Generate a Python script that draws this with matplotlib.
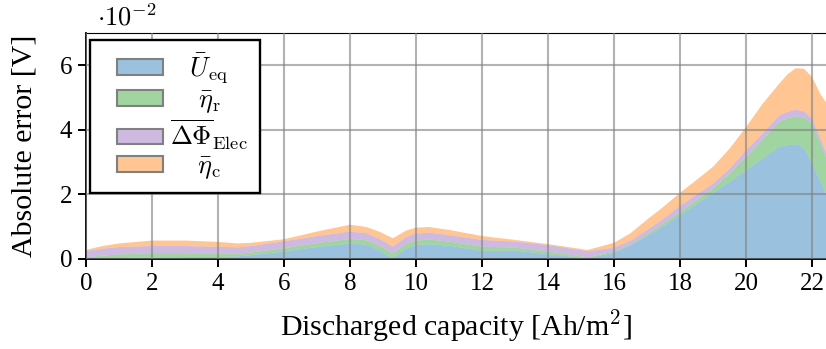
import matplotlib
matplotlib.use("Agg")
import matplotlib.pyplot as plt
from matplotlib.colors import to_rgba
from matplotlib.legend_handler import HandlerPatch
from matplotlib.patches import Patch, Rectangle
import numpy as np

plt.rcParams["font.family"] = ["Liberation Serif", "DejaVu Serif"]
plt.rcParams["mathtext.fontset"] = "cm"

# discharged capacity [Ah/m^2]
capacity = [0.0, 0.5, 1.0, 2.0, 3.0, 4.0, 4.6, 5.0, 6.0, 7.0, 8.0, 8.5, 8.9,
            9.3, 9.7, 10.0, 10.4, 11.0, 12.0, 13.0, 14.0, 15.2, 16.0, 16.5,
            17.0, 17.5, 18.0, 18.5, 19.0, 19.5, 20.0, 20.5, 21.0, 21.25, 21.5,
            21.75, 22.0, 22.24, 22.42]

# layer thicknesses, in 1e-2 V
err_ueq = [0.00, 0.02, 0.03, 0.05, 0.06, 0.06, 0.08, 0.12, 0.23, 0.37, 0.48,
           0.44, 0.26, 0.02, 0.32, 0.43, 0.46, 0.41, 0.25, 0.26, 0.15, 0.02,
           0.20, 0.42, 0.71, 1.02, 1.36, 1.70, 2.05, 2.39, 2.75, 3.11, 3.47,
           3.53, 3.56, 3.45, 2.96, 2.44, 2.03]
err_eta_r = [0.05, 0.08, 0.11, 0.13, 0.12, 0.11, 0.08, 0.08, 0.10, 0.12, 0.14,
             0.14, 0.15, 0.15, 0.14, 0.14, 0.14, 0.13, 0.13, 0.09, 0.08, 0.03,
             0.03, 0.03, 0.05, 0.08, 0.10, 0.12, 0.14, 0.26, 0.41, 0.58, 0.78,
             0.83, 0.86, 0.93, 1.24, 1.16, 1.12]
err_dphi = [0.20, 0.22, 0.23, 0.22, 0.22, 0.21, 0.20, 0.20, 0.22, 0.22, 0.23,
            0.22, 0.21, 0.21, 0.22, 0.22, 0.22, 0.20, 0.21, 0.19, 0.20, 0.19,
            0.12, 0.12, 0.14, 0.15, 0.19, 0.18, 0.15, 0.15, 0.21, 0.20, 0.20,
            0.20, 0.21, 0.20, 0.15, 0.18, 0.15]
err_eta_c = [0.03, 0.08, 0.11, 0.17, 0.17, 0.15, 0.12, 0.10, 0.06, 0.14, 0.21,
             0.19, 0.22, 0.26, 0.20, 0.18, 0.17, 0.16, 0.12, 0.05, 0.03, 0.04,
             0.15, 0.23, 0.32, 0.37, 0.40, 0.45, 0.52, 0.62, 0.72, 0.92, 0.98,
             1.16, 1.28, 1.32, 1.29, 1.35, 1.55]

labels = [r"$\bar{U}_{\mathrm{eq}}$", r"$\bar{\eta}_{\mathrm{r}}$",
          r"$\overline{\Delta\Phi}_{\mathrm{Elec}}$", r"$\bar{\eta}_{\mathrm{c}}$"]
colors = ["tab:blue", "tab:green", "tab:purple", "tab:orange"]

fig = plt.figure(figsize=(8.26, 3.49), dpi=100)
ax = fig.add_axes([0.104, 0.258, 0.896, 0.647])

ax.stackplot(capacity, err_ueq, err_eta_r, err_dphi, err_eta_c,
             colors=colors, alpha=0.45, linewidth=0)

ax.set_xlim(0, 22.42)
ax.set_ylim(0, 7)
ax.set_xticks(np.arange(0, 23, 2))
ax.set_yticks([0, 2, 4, 6])
ax.set_axisbelow(False)
ax.grid(True, color="gray", alpha=0.6, linewidth=1.5)

ax.tick_params(direction="out", length=6, width=1.4, labelsize=18, pad=4)
for side in ["left", "bottom"]:
    ax.spines[side].set_linewidth(1.3)
ax.spines["top"].set_linewidth(0.8)
ax.spines["right"].set_visible(False)

ax.set_xlabel(r"Discharged capacity [Ah/m$^2$]", fontsize=21.5, labelpad=9)
ax.set_ylabel("Absolute error [V]", fontsize=21.5, labelpad=16)
ax.text(0.015, 1.012, r"$\cdot 10^{-2}$", transform=ax.transAxes,
        fontsize=19, ha="left", va="bottom")


def swatch(legend, orig_handle, xdescent, ydescent, width, height, fontsize):
    # swatch sits in the right part of the handle box
    w = 1.75 * fontsize
    return Rectangle((-xdescent + width - w, -ydescent), w, height)


handles = [Patch(facecolor=to_rgba(c, 0.45), edgecolor="gray", linewidth=1.5)
           for c in colors]
leg = ax.legend(handles, labels, loc="upper left", fontsize=19,
                fancybox=False, framealpha=1, edgecolor="black",
                bbox_to_anchor=(0.005, 0.97), borderaxespad=0,
                handlelength=2.35, handleheight=0.55, labelspacing=0.12,
                handletextpad=0.25, borderpad=0.45,
                handler_map={Patch: HandlerPatch(patch_func=swatch)})
leg.get_frame().set_linewidth(1.7)

# center the labels in their column
fig.canvas.draw()
r = fig.canvas.get_renderer()
texts = leg.get_texts()
widths = [t.get_window_extent(r).width for t in texts]
maxw = max(widths)
for t, w in zip(texts, widths):
    t.set_x((maxw - w) / 2)

fig.savefig("out.png", dpi=100)
